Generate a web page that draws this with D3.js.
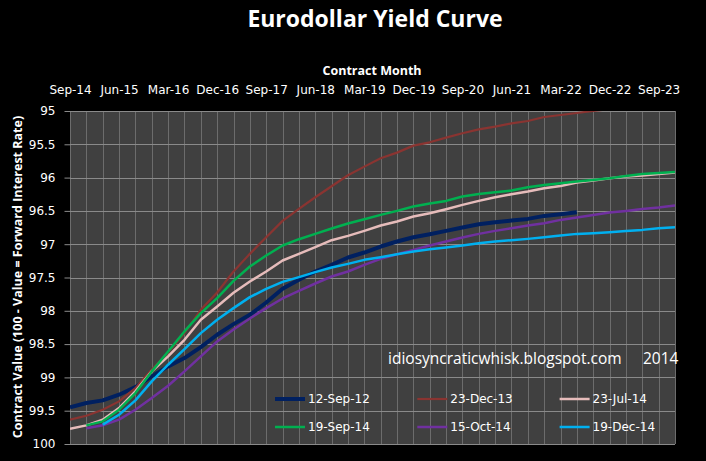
<!DOCTYPE html>
<html>
<head>
  <meta charset="utf-8">
  <title>Eurodollar Yield Curve</title>
  <script src="https://cdn.jsdelivr.net/npm/d3@7"></script>
  <style type="text/css">
  html, body {
    margin: 0;
    padding: 0;
    background-color: #000;
  }
  .plot-bg {
    fill: #404040;
  }
  .grid-h line {
    stroke: #8a8a8a;
    stroke-width: 1px;
  }
  .grid-v line {
    stroke: #6c6c6c;
    stroke-width: 1px;
  }
  .axis text {
    fill: #fff;
    font-family: "DejaVu Sans", sans-serif;
    font-size: 12px;
  }
  .axis path {
    display: none;
  }
  .axis line {
    stroke: #8a8a8a;
  }
  .series {
    fill: none;
    stroke-linejoin: round;
  }
  .title {
    fill: #fff;
    font-family: "Open Sans", sans-serif;
    font-weight: bold;
    font-size: 23px;
    text-anchor: middle;
  }
  .axis-title {
    fill: #fff;
    font-family: "Open Sans", sans-serif;
    font-weight: bold;
    font-size: 12.5px;
    text-anchor: middle;
  }
  .legend text {
    fill: #fff;
    font-family: "DejaVu Sans", sans-serif;
    font-size: 12px;
  }
  .note {
    fill: #fff;
    font-family: "Open Sans", sans-serif;
    font-size: 15.5px;
  }
  </style>
</head>

<body>
  <div id='chart'></div>
</body>

<script>
var width = 706,
    height = 461;

// quarterly contract months on the x axis
var months = [
  "Sep-14", "Dec-14", "Mar-15", "Jun-15", "Sep-15", "Dec-15", "Mar-16", "Jun-16",
  "Sep-16", "Dec-16", "Mar-17", "Jun-17", "Sep-17", "Dec-17", "Mar-18", "Jun-18",
  "Sep-18", "Dec-18", "Mar-19", "Jun-19", "Sep-19", "Dec-19", "Mar-20", "Jun-20",
  "Sep-20", "Dec-20", "Mar-21", "Jun-21", "Sep-21", "Dec-21", "Mar-22", "Jun-22",
  "Sep-22", "Dec-22", "Mar-23", "Jun-23", "Sep-23", "Dec-23"];

// every third month gets a label
var monthLabels = months.filter(function(d, i) { return i % 3 == 0; });

var yTicks = [95, 95.5, 96, 96.5, 97, 97.5, 98, 98.5, 99, 99.5, 100];

var seriesNames = ["12-Sep-12", "23-Dec-13", "23-Jul-14", "19-Sep-14", "15-Oct-14", "19-Dec-14"];
var seriesColors = ["#002060", "#8a3431", "#e6bcbb", "#00b050", "#7030a0", "#00b0f0"];

var sep12 = [99.45, 99.385, 99.345, 99.26, 99.145, 98.985, 98.835, 98.71, 98.545, 98.36,
  98.2, 98.06, 97.875, 97.67, 97.535, 97.41, 97.31, 97.2, 97.125, 97.035,
  96.96, 96.895, 96.85, 96.8, 96.75, 96.7, 96.67, 96.645, 96.62, 96.575,
  96.55, 96.52, null, null, null, null, null, null];

var dec13 = [99.635, 99.575, 99.485, 99.36, 99.16, 98.885, 98.625, 98.335, 97.985, 97.725,
  97.41, 97.145, 96.895, 96.65, 96.47, 96.295, 96.13, 95.965, 95.835, 95.71,
  95.625, 95.52, 95.47, 95.4, 95.335, 95.275, 95.235, 95.185, 95.15, 95.09,
  95.06, 95.03, 95.0, 94.97, 94.95, 94.92, 94.9, 94.87];

var jul14 = [99.77, 99.72, 99.635, 99.46, 99.21, 98.91, 98.685, 98.435, 98.135, 97.935,
  97.73, 97.56, 97.41, 97.245, 97.145, 97.045, 96.94, 96.875, 96.8, 96.72,
  96.66, 96.585, 96.535, 96.475, 96.41, 96.35, 96.295, 96.25, 96.21, 96.16,
  96.125, 96.075, 96.045, 96.01, 95.985, 95.97, 95.945, 95.925];

var sep14 = [null, 99.72, 99.66, 99.485, 99.235, 98.91, 98.61, 98.31, 98.035, 97.81,
  97.55, 97.335, 97.17, 97.02, 96.925, 96.845, 96.765, 96.69, 96.625, 96.56,
  96.5, 96.435, 96.39, 96.35, 96.285, 96.245, 96.22, 96.195, 96.145, 96.11,
  96.085, 96.06, 96.035, 96.01, 95.975, 95.945, 95.93, 95.915];

var oct14 = [null, 99.765, 99.72, 99.635, 99.485, 99.31, 99.125, 98.91, 98.685, 98.46,
  98.28, 98.115, 97.96, 97.815, 97.7, 97.59, 97.485, 97.41, 97.31, 97.22,
  97.15, 97.085, 97.02, 96.96, 96.9, 96.845, 96.8, 96.76, 96.72, 96.685,
  96.635, 96.6, 96.56, 96.525, 96.5, 96.47, 96.45, 96.42];

var dec14 = [null, null, 99.71, 99.56, 99.345, 99.06, 98.81, 98.575, 98.335, 98.135,
  97.96, 97.795, 97.67, 97.565, 97.495, 97.42, 97.35, 97.295, 97.235, 97.195,
  97.15, 97.11, 97.075, 97.05, 97.02, 96.985, 96.96, 96.94, 96.92, 96.895,
  96.87, 96.845, 96.835, 96.82, 96.8, 96.785, 96.76, 96.745];

var seriesValues = [sep12, dec13, jul14, sep14, oct14, dec14];
var seriesWidths = [4, 2.2, 2.5, 2.5, 2.5, 2.5];

var plot = {left: 70, right: 675, top: 111, bottom: 444};

var svg = d3.select("#chart").append("svg")
            .attr("width", width)
            .attr("height", height)
            .style("display", "block");

svg.append("rect")
   .attr("width", width)
   .attr("height", height)
   .attr("fill", "#000");

var x = d3.scalePoint()
          .domain(months)
          .range([plot.left, plot.right]);

var y = d3.scaleLinear()
          .domain([95, 100])
          .range([plot.top, plot.bottom]);

svg.append("rect")
   .attr("class", "plot-bg")
   .attr("x", plot.left)
   .attr("y", plot.top)
   .attr("width", plot.right - plot.left)
   .attr("height", plot.bottom - plot.top);

// gridlines
svg.append("g")
   .attr("class", "grid-v")
   .selectAll("line")
   .data(months)
   .enter().append("line")
   .attr("x1", function(d) { return Math.round(x(d)) + 0.5; })
   .attr("x2", function(d) { return Math.round(x(d)) + 0.5; })
   .attr("y1", plot.top)
   .attr("y2", plot.bottom);

svg.append("g")
   .attr("class", "grid-h")
   .selectAll("line")
   .data(yTicks)
   .enter().append("line")
   .attr("x1", plot.left)
   .attr("x2", plot.right)
   .attr("y1", function(d) { return Math.round(y(d)) + 0.5; })
   .attr("y2", function(d) { return Math.round(y(d)) + 0.5; });

// axes
svg.append("g")
   .attr("class", "axis")
   .attr("transform", "translate(" + (plot.left + 0.5) + ",0)")
   .call(d3.axisLeft(y)
           .tickValues(yTicks)
           .tickFormat(function(d) { return String(d); })
           .tickSize(6)
           .tickPadding(9));

svg.append("g")
   .attr("class", "axis")
   .attr("transform", "translate(0," + plot.top + ")")
   .call(d3.axisTop(x)
           .tickValues(monthLabels)
           .tickSize(0)
           .tickPadding(17));

// lines, clipped to the plot area (23-Dec-13 runs off the top)
svg.append("clipPath")
   .attr("id", "clip")
   .append("rect")
   .attr("x", plot.left)
   .attr("y", plot.top)
   .attr("width", plot.right - plot.left)
   .attr("height", plot.bottom - plot.top);

var line = d3.line()
             .defined(function(d) { return d != null; })
             .x(function(d, i) { return x(months[i]); })
             .y(function(d) { return y(d); });

svg.append("g")
   .attr("clip-path", "url(#clip)")
   .selectAll("path")
   .data(seriesValues)
   .enter().append("path")
   .attr("class", "series")
   .attr("stroke", function(d, i) { return seriesColors[i]; })
   .attr("stroke-width", function(d, i) { return seriesWidths[i]; })
   .attr("d", line);

// titles
svg.append("text")
   .attr("class", "title")
   .attr("x", 375)
   .attr("y", 27)
   .text("Eurodollar Yield Curve");

svg.append("text")
   .attr("class", "axis-title")
   .attr("x", 372)
   .attr("y", 75)
   .text("Contract  Month");

svg.append("text")
   .attr("class", "axis-title")
   .attr("transform", "translate(22,277) rotate(-90)")
   .text("Contract  Value  (100 - Value = Forward Interest Rate)");

svg.append("text")
   .attr("class", "note")
   .attr("x", 388)
   .attr("y", 364)
   .text("idiosyncraticwhisk.blogspot.com");

svg.append("text")
   .attr("class", "note")
   .attr("x", 643)
   .attr("y", 364)
   .text("2014");

// legend: three columns, two rows
var legend = svg.append("g")
                .attr("class", "legend")
                .selectAll("g")
                .data(seriesNames)
                .enter().append("g")
                .attr("transform", function(d, i) {
                  var col = i % 3, row = Math.floor(i / 3);
                  return "translate(" + (275 + col * 142.3) + "," + (399 + row * 28) + ")";
                });

legend.append("line")
      .attr("x1", 0)
      .attr("x2", 30)
      .attr("stroke", function(d, i) { return seriesColors[i]; })
      .attr("stroke-width", function(d, i) { return seriesWidths[i]; });

legend.append("text")
      .attr("x", 33)
      .attr("dy", "0.35em")
      .text(function(d) { return d; });
</script>
</html>
